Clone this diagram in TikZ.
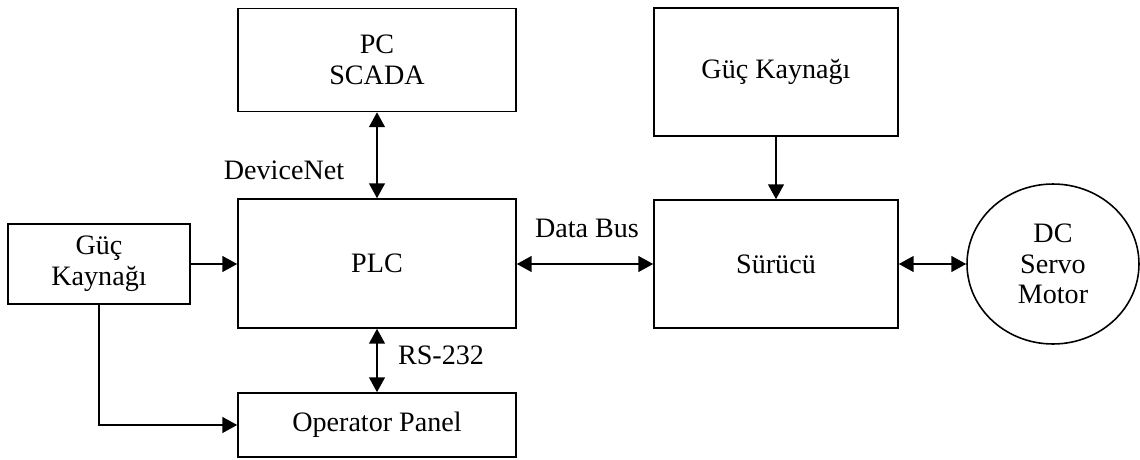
\documentclass[tikz,border=0pt]{standalone}
\usepackage{fontspec}
\setmainfont{Liberation Serif}
\usetikzlibrary{arrows.meta, shapes.geometric}
\tikzset{
  blok/.style={draw, line width=0.9pt, align=center, minimum width=5.56cm},
  lbl/.style={inner sep=0pt},
  ok/.style={line width=1.1pt, -{Triangle[length=8.5pt, width=9pt]}},
  ciftok/.style={line width=1.1pt, {Triangle[length=8.5pt, width=9pt]}-{Triangle[length=8.5pt, width=9pt]}}
}
\begin{document}
\begin{tikzpicture}[x=0.02cm, y=-0.02cm, font=\fontsize{16}{17.5}\selectfont]
  \useasboundingbox (0, 0) rectangle (1140, 460);
  \node[blok, minimum height=2.06cm] (pc) at (377, 60) {PC\\SCADA};
  \node[blok, minimum height=2.58cm] (plc) at (377, 263.5) {PLC};
  \node[blok, minimum height=1.28cm] (op) at (377, 425) {Operator Panel};
  \node[blok, minimum width=3.64cm, minimum height=1.6cm] (gucsol) at (99, 264) {Güç\\Kaynağı};
  \node[blok, minimum width=4.88cm, minimum height=2.56cm] (gucsag) at (776, 72) {Güç Kaynağı};
  \node[blok, minimum width=4.88cm, minimum height=2.56cm] (surucu) at (776, 264) {Sürücü};
  \node[draw, ellipse, line width=0.9pt, align=center, minimum width=3.44cm, minimum height=3.2cm, inner sep=0pt] (motor) at (1053, 264) {DC\\Servo\\Motor};
  \draw[ciftok] (pc) -- (plc);
  \draw[ciftok] (plc) -- (op);
  \draw[ok] (gucsol) -- (gucsol -| plc.west);
  \draw[ok] (gucsol.south) |- (op.west);
  \draw[ciftok] (plc.east |- surucu) -- (surucu.west);
  \draw[ok] (gucsag) -- (surucu);
  \draw[ciftok] (surucu.east) -- (motor.west);
  \node[lbl] (devnet) at (284, 170) {DeviceNet};
  \node[lbl] (databus) at (587, 228) {Data Bus};
  \node[lbl] (rs) at (441, 355) {RS-232};
\end{tikzpicture}
\end{document}
